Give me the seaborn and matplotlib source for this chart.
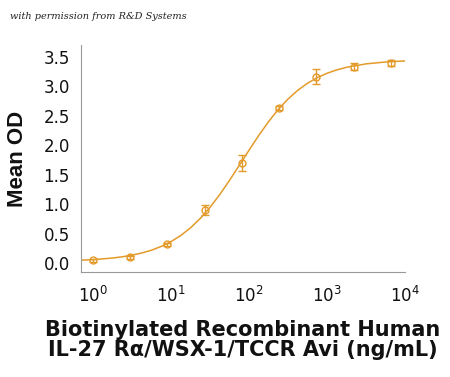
import numpy as np
import matplotlib
matplotlib.use("Agg")
import matplotlib.pyplot as plt
import seaborn as sns

# measured points (3-fold dilution series)
conc = [1, 3, 9, 27, 81, 243, 729, 2187, 6561]
mean_od = [0.05, 0.10, 0.32, 0.90, 1.70, 2.63, 3.16, 3.33, 3.40]
od_err = [0.02, 0.02, 0.03, 0.08, 0.13, 0.03, 0.13, 0.06, 0.05]

# fitted curve (log10 conc vs OD)
curve_logx = [-0.15, 0.0, 0.25, 0.375, 0.5, 0.625, 0.75, 0.875, 1.0, 1.125,
              1.25, 1.375, 1.5, 1.625, 1.75, 1.875, 2.0, 2.125, 2.25, 2.375,
              2.5, 2.625, 2.75, 2.875, 3.0, 3.125, 3.25, 3.5, 3.75, 4.0]
curve_od = [0.053, 0.063, 0.090, 0.111, 0.139, 0.175, 0.223, 0.287, 0.368, 0.472,
            0.602, 0.761, 0.949, 1.166, 1.406, 1.660, 1.917, 2.167, 2.399, 2.606,
            2.783, 2.931, 3.050, 3.145, 3.219, 3.276, 3.320, 3.378, 3.410, 3.428]

xtick_labels = ["$10^{0}$", "$10^{1}$", "$10^{2}$", "$10^{3}$", "$10^{4}$"]
yticks = [0.0, 0.5, 1.0, 1.5, 2.0, 2.5, 3.0, 3.5]

orange = "#E39A2A"

sns.set_style("white")
plt.rcParams["font.family"] = ["DejaVu Sans"]
plt.rcParams["mathtext.fontset"] = "dejavusans"

fig = plt.figure(figsize=(4.5, 3.77), dpi=100)
ax = fig.add_axes([0.18, 0.278, 0.72, 0.603])

sns.lineplot(x=[10 ** v for v in curve_logx], y=curve_od, ax=ax, color=orange, lw=1.1)
ax.errorbar(conc, mean_od, yerr=od_err, fmt="o", ms=5, mfc="none", mec=orange,
            mew=1.0, ecolor=orange, elinewidth=1.0, capsize=3, capthick=1.0)

ax.set_xscale("log")
ax.set_xlim(0.7, 10000)
ax.set_ylim(-0.15, 3.7)
ax.set_xticks([1, 10, 100, 1000, 10000])
ax.set_xticklabels(xtick_labels)
ax.set_yticks(yticks)
ax.set_yticklabels([f"{v:.1f}" for v in yticks])
ax.tick_params(axis="both", labelsize=12, colors="#888888", labelcolor="#111111",
               direction="out", length=3, width=0.8, pad=5)
ax.tick_params(axis="x", which="minor", length=2, width=0.6, colors="#888888")
ax.tick_params(axis="x", which="major", pad=7)

for s in ["top", "right"]:
    ax.spines[s].set_visible(False)
for s in ["left", "bottom"]:
    ax.spines[s].set_color("#999999")
    ax.spines[s].set_linewidth(0.8)

ax.set_ylabel("Mean OD", fontsize=16, fontweight="bold", labelpad=11,
              family="Liberation Sans", color="#111111")
ax.set_xlabel("Biotinylated Recombinant Human\nIL-27 R\u03b1/WSX-1/TCCR Avi (ng/mL)",
              fontsize=15, fontweight="bold", linespacing=1.0, labelpad=10,
              color="#111111")

fig.text(0.022, 0.955, "with permission from R&D Systems", fontsize=7,
         fontstyle="italic", family="DejaVu Serif", color="#222222", va="center")

fig.savefig("out.png", dpi=100)
